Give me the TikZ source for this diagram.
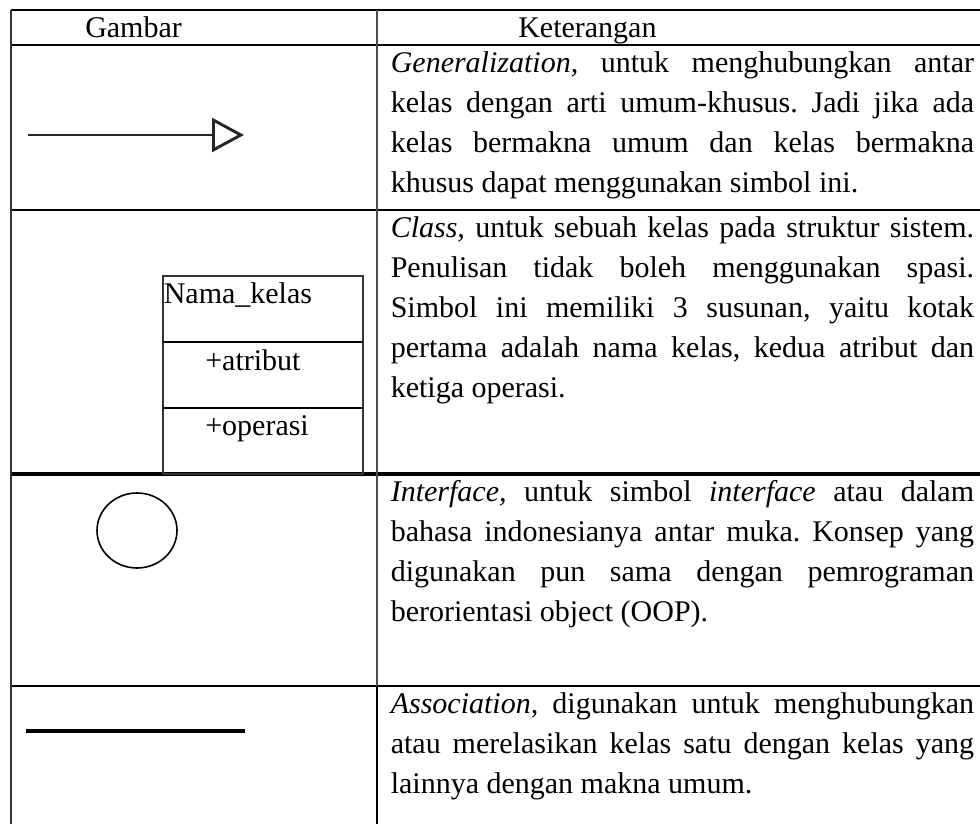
\documentclass[tikz,border=0pt]{standalone}
\usepackage{fontspec}
\setmainfont{Liberation Serif}
\usetikzlibrary{arrows.meta}
\hyphenpenalty=10000
\exhyphenpenalty=10000
\frenchspacing

\begin{document}
\begin{tikzpicture}[x=0.75pt, y=-0.75pt,
    txt/.style={anchor=base west, inner sep=0pt, font=\fontsize{22.5}{30}\selectfont},
    ket/.style={txt, text width=437.5pt, align=justify},
    rowline/.style={black, line width=2pt},
    colline/.style={black!70, line width=1.1pt},
    boxline/.style={black!80, line width=0.9pt},
  ]
    \useasboundingbox (0,0) rectangle (980,824);
    % frame and rows
    \draw[black, line width=1.1pt] (11,10) -- (980,10);
    \draw[rowline] (11,45) -- (980,45);
    \draw[rowline] (11,210) -- (980,210);
    \draw[rowline, line width=2.4pt] (11,474) -- (980,474);
    \draw[rowline] (11,686) -- (980,686);
    \draw[black!80, line width=1.2pt] (11,10) -- (11,824);
    \draw[colline] (377,10) -- (377,686);
    \draw[black, line width=1.8pt] (377,686) -- (377,824);
    % header
    \draw (85,37.5) node[txt] (gambar) {Gambar};
    \draw (518,37.5) node[txt] (keterangan) {Keterangan};
    % generalization
    \coordinate (genA) at (28,135);
    \coordinate (genB) at (244,135);
    \draw[black!85, line width=2.2pt, -{Triangle[open, length=24pt, width=25.5pt]}] (genA) -- (genB);
    \draw (390.5,72.5) node[ket] (ketgen) {\textit{Generalization,} untuk menghubungkan antar\linebreak
      kelas dengan arti umum-khusus. Jadi jika ada\linebreak
      kelas bermakna umum dan kelas bermakna\linebreak
      khusus dapat menggunakan simbol ini.};
    % class
    \draw[boxline] (163,276) rectangle (363,474);
    \draw[rowline, line width=1.7pt] (163,342) -- (363,342);
    \draw[rowline, line width=1.7pt] (163,408) -- (363,408);
    \draw (163.5,303) node[txt] (nama) {Nama\_kelas};
    \draw (205,370) node[txt] (atribut) {+atribut};
    \draw (205,435) node[txt] (operasi) {+operasi};
    \draw (390.5,237) node[ket] (ketclass) {\textit{Class,} untuk sebuah kelas pada struktur sistem.\linebreak
      Penulisan tidak boleh menggunakan spasi.\linebreak
      Simbol ini memiliki 3 susunan, yaitu kotak\linebreak
      pertama adalah nama kelas, kedua atribut dan\linebreak
      ketiga operasi.};
    % interface
    \draw[black, line width=1.2pt] (137,530.5) ellipse [x radius=40, y radius=37.5];
    \draw (390.5,501.5) node[ket] (ketiface) {\textit{Interface,} untuk simbol \textit{interface} atau dalam\linebreak
      bahasa indonesianya antar muka. Konsep yang\linebreak
      digunakan pun sama dengan pemrograman\linebreak
      berorientasi object (OOP).};
    % association
    \coordinate (assA) at (26,731);
    \coordinate (assB) at (245,731);
    \draw[black, line width=2.4pt] (assA) -- (assB);
    \draw (390.5,713) node[ket] (ketass) {\textit{Association,} digunakan untuk menghubungkan\linebreak
      atau merelasikan kelas satu dengan kelas yang\linebreak
      lainnya dengan makna umum.};
  \end{tikzpicture}
\end{document}
